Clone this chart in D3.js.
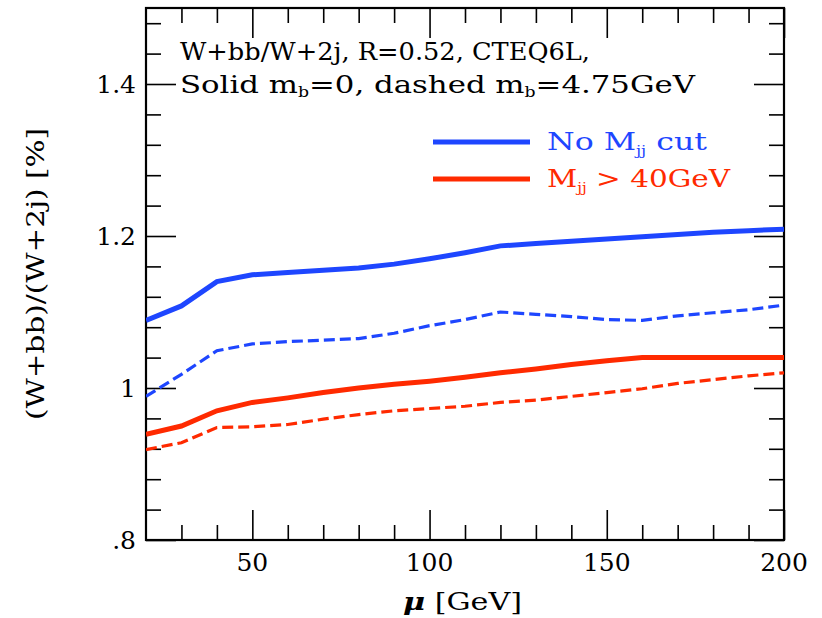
<!DOCTYPE html>
<html>
<head>
<meta charset="utf-8">
<script src="https://cdn.jsdelivr.net/npm/d3@7"></script>
<style>
  body { margin: 0; background: #fff; }
  text { font-family: "DejaVu Serif", serif; }
</style>
</head>
<body>
<div id="chart"></div>
<script>
// data
const mu = [20, 30, 40, 50, 60, 70, 80, 90, 100, 110, 120, 130, 140, 150, 160, 170, 180, 190, 200];
const noCutSolid = [1.089, 1.108, 1.140, 1.149, 1.152, 1.155, 1.158, 1.163, 1.170, 1.178, 1.187, 1.190, 1.193, 1.196, 1.199, 1.202, 1.205, 1.207, 1.209];
const noCutDashed = [0.989, 1.018, 1.049, 1.058, 1.061, 1.063, 1.065, 1.072, 1.082, 1.090, 1.100, 1.097, 1.094, 1.090, 1.089, 1.095, 1.099, 1.103, 1.109];
const cutSolid = [0.939, 0.950, 0.970, 0.981, 0.987, 0.994, 1.000, 1.005, 1.009, 1.014, 1.020, 1.025, 1.031, 1.036, 1.040, 1.040, 1.040, 1.040, 1.040];
const cutDashed = [0.919, 0.928, 0.948, 0.949, 0.952, 0.959, 0.965, 0.970, 0.973, 0.976, 0.981, 0.984, 0.989, 0.994, 0.999, 1.006, 1.011, 1.016, 1.020];

const xMajor = [50, 100, 150, 200];
const xMinor = [30, 40, 60, 70, 80, 90, 110, 120, 130, 140, 160, 170, 180, 190];
const yMajor = [0.8, 1.0, 1.2, 1.4];
const yMinor = [0.84, 0.88, 0.92, 0.96, 1.04, 1.08, 1.12, 1.16, 1.24, 1.28, 1.32, 1.36, 1.44, 1.48];
const yLabels = [".8", "1", "1.2", "1.4"];

const blue = "#1e46ff", red = "#ff2a00";

const W = 822, H = 618;
const margin = {top: 8, right: 38, bottom: 78, left: 146},
    width = W - margin.left - margin.right,
    height = H - margin.top - margin.bottom;

const svg = d3.select("#chart")
    .append("svg")
    .attr("width", W)
    .attr("height", H)
    .append("g")
    .attr("transform", `translate(${margin.left},${margin.top})`);

const x = d3.scaleLinear().domain([20, 200]).range([0, width]);
const y = d3.scaleLinear().domain([0.8, 1.5]).range([height, 0]);

// ticks on all four sides, pointing inward
function tickAxis(axis, values, size) {
    return axis.tickValues(values).tickSize(size).tickFormat("").tickSizeOuter(0);
}
const axes = [
    [d3.axisBottom(x), xMinor, -15, `translate(0,${height})`],
    [d3.axisBottom(x), xMajor, -30, `translate(0,${height})`],
    [d3.axisTop(x), xMinor, -15, "translate(0,0)"],
    [d3.axisTop(x), xMajor, -30, "translate(0,0)"],
    [d3.axisLeft(y), yMinor, -15, "translate(0,0)"],
    [d3.axisLeft(y), yMajor, -30, "translate(0,0)"],
    [d3.axisRight(y), yMinor, -15, `translate(${width},0)`],
    [d3.axisRight(y), yMajor, -30, `translate(${width},0)`]
];
for (const [axis, vals, size, tr] of axes) {
    const g = svg.append("g")
        .attr("transform", tr)
        .call(tickAxis(axis, vals, size));
    g.select(".domain").remove();
    g.selectAll("line").attr("stroke", "#000").attr("stroke-width", 1.6);
}

// frame
svg.append("rect")
    .attr("x", 0).attr("y", 0)
    .attr("width", width).attr("height", height)
    .attr("fill", "none")
    .attr("stroke", "#000")
    .attr("stroke-width", 2.2);

// tick labels
svg.selectAll(".xlab")
    .data(xMajor)
    .enter()
    .append("text")
    .attr("x", d => x(d))
    .attr("y", height + 31)
    .attr("text-anchor", "middle")
    .attr("font-size", 25)
    .text(d => d);

svg.selectAll(".ylab")
    .data(yMajor)
    .enter()
    .append("text")
    .attr("x", -10)
    .attr("y", d => y(d) + 9)
    .attr("text-anchor", "end")
    .attr("font-size", 25)
    .text((d, i) => yLabels[i]);

// curves
const line = d3.line()
    .x((d, i) => x(mu[i]))
    .y(d => y(d));

const series = [
    {values: noCutSolid, color: blue, w: 5, dash: null},
    {values: noCutDashed, color: blue, w: 3.2, dash: "11,5"},
    {values: cutSolid, color: red, w: 5, dash: null},
    {values: cutDashed, color: red, w: 3.2, dash: "11,5"}
];
svg.append("clipPath").attr("id", "clip")
    .append("rect").attr("width", width).attr("height", height);
svg.selectAll(".curve")
    .data(series)
    .enter()
    .append("path")
    .attr("clip-path", "url(#clip)")
    .attr("d", d => line(d.values))
    .attr("fill", "none")
    .attr("stroke", d => d.color)
    .attr("stroke-width", d => d.w)
    .attr("stroke-dasharray", d => d.dash);

// header text
const info = svg.append("g").attr("font-size", 25);
info.append("text")
    .attr("x", 34).attr("y", 52)
    .attr("textLength", 410).attr("lengthAdjust", "spacingAndGlyphs")
    .text("W+bb/W+2j, R=0.52, CTEQ6L,");
const l2 = info.append("text")
    .attr("x", 34).attr("y", 85)
    .attr("textLength", 515).attr("lengthAdjust", "spacingAndGlyphs");
l2.append("tspan").text("Solid m");
l2.append("tspan").attr("font-size", 14).attr("dy", 4).text("b");
l2.append("tspan").attr("dy", -4).text("=0, dashed m");
l2.append("tspan").attr("font-size", 14).attr("dy", 4).text("b");
l2.append("tspan").attr("dy", -4).text("=4.75GeV");

// legend
const legend = [
    {color: blue, main: "No M", sub: "jj", rest: " cut", len: 160},
    {color: red, main: "M", sub: "jj", rest: " > 40GeV", len: 183}
];
const lg = svg.selectAll(".leg")
    .data(legend)
    .enter()
    .append("g")
    .attr("transform", (d, i) => `translate(0,${134 + i * 37})`);
lg.append("line")
    .attr("x1", 287).attr("x2", 384)
    .attr("stroke", d => d.color)
    .attr("stroke-width", 5);
const lt = lg.append("text")
    .attr("x", 401).attr("y", 8)
    .attr("fill", d => d.color)
    .attr("font-size", 25)
    .attr("textLength", d => d.len).attr("lengthAdjust", "spacingAndGlyphs");
lt.append("tspan").text(d => d.main);
lt.append("tspan").attr("font-size", 13).attr("dy", 5).text(d => d.sub);
lt.append("tspan").attr("dy", -5).text(d => d.rest);

// axis titles
const xt = svg.append("text")
    .attr("x", 257)
    .attr("y", height + 70)
    .attr("font-size", 25)
    .attr("textLength", 119).attr("lengthAdjust", "spacingAndGlyphs");
xt.append("tspan").attr("font-weight", "bold").attr("font-style", "italic").text("μ");
xt.append("tspan").text(" [GeV]");

svg.append("text")
    .attr("transform", `translate(${-146 + 44},${274 - margin.top}) rotate(-90)`)
    .attr("text-anchor", "middle")
    .attr("font-size", 25)
    .attr("textLength", 292).attr("lengthAdjust", "spacingAndGlyphs")
    .text("(W+bb)/(W+2j)  [%]");
</script>
</body>
</html>
